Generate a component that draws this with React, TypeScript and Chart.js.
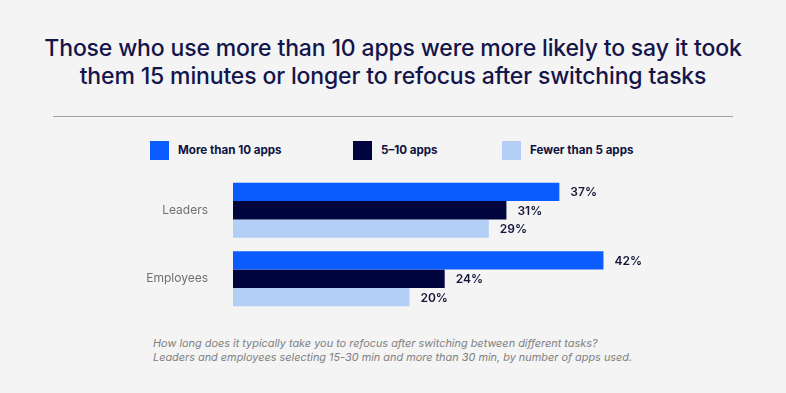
import React, { useEffect, useRef } from "react";
import { Chart, registerables } from "chart.js";

Chart.register(...registerables);

const categories = ["Leaders", "Employees"];
const seriesNames = ["More than 10 apps", "5–10 apps", "Fewer than 5 apps"];
const moreThan10 = [37, 42];
const fiveTo10 = [31, 24];
const fewerThan5 = [29, 20];
const seriesColors = ["#0B5CFF", "#00053D", "#B4CFF6"];
const legendX = [150, 353, 502];

const titleLines = [
  "Those who use more than 10 apps were more likely to say it took",
  "them 15 minutes or longer to refocus after switching tasks",
];
const footLines = [
  "How long does it typically take you to refocus after switching between different tasks?",
  "Leaders and employees selecting 15-30 min and more than 30 min, by number of apps used.",
];

const FONT = "Inter, 'Noto Sans', sans-serif";

export default function App() {
  const ref = useRef<HTMLCanvasElement>(null);

  useEffect(() => {
    if (!ref.current) return;
    const labelPlugin = {
      id: "valueLabels",
      afterDatasetsDraw(chart: any) {
        const ctx = chart.ctx;
        ctx.save();
        ctx.font = `600 12px ${FONT}`;
        ctx.fillStyle = "#15163a";
        ctx.textBaseline = "middle";
        ctx.textAlign = "left";
        chart.data.datasets.forEach((ds: any, i: number) => {
          const meta = chart.getDatasetMeta(i);
          meta.data.forEach((el: any, j: number) => {
            ctx.fillText(ds.data[j] + "%", el.x + 11, el.y + 1);
          });
        });
        ctx.restore();
      },
    };
    const chart = new Chart(ref.current, {
      type: "bar",
      data: {
        labels: categories,
        datasets: [moreThan10, fiveTo10, fewerThan5].map((d, i) => ({
          label: seriesNames[i],
          data: d,
          backgroundColor: seriesColors[i],
          borderWidth: 0,
          barPercentage: 1,
          categoryPercentage: 0.806,
        })),
      },
      options: {
        indexAxis: "y",
        animation: false,
        responsive: true,
        maintainAspectRatio: false,
        layout: { padding: { left: 0, right: 112, top: 11, bottom: 12 } },
        plugins: { legend: { display: false }, tooltip: { enabled: false }, title: { display: false } },
        scales: {
          x: { display: false, min: 0, max: 50 },
          y: {
            grid: { display: false },
            border: { display: false },
            ticks: { color: "#707070", font: { family: FONT, size: 12 }, padding: 17 },
            afterFit(scale: any) {
              scale.width = 233;
              scale.paddingTop = 0;
              scale.paddingBottom = 0;
            },
          },
        },
      },
      plugins: [labelPlugin],
    });
    return () => chart.destroy();
  }, []);

  return (
    <div style={{ position: "fixed", left: 0, top: 0, width: 786, height: 393, background: "#f4f4f4", fontFamily: FONT, overflow: "hidden" }}>
      <div style={{ position: "absolute", left: 0, top: 34, width: 786, textAlign: "center", color: "#14154a", fontSize: 23, fontWeight: 500, lineHeight: "28px", letterSpacing: "-0.15px" }}>
        {titleLines.map((l, i) => (
          <div key={i}>{l}</div>
        ))}
      </div>
      <div style={{ position: "absolute", left: 53, top: 116, width: 680, height: 1, background: "#a0a0a8" }} />
      {seriesNames.map((n, i) => (
        <div key={i} style={{ position: "absolute", left: legendX[i], top: 140, height: 20, display: "flex", alignItems: "center" }}>
          <div style={{ width: 19, height: 19, background: seriesColors[i] }} />
          <span style={{ marginLeft: 9, fontSize: 11.6, fontWeight: 700, color: "#0f1240" }}>{n}</span>
        </div>
      ))}
      <div style={{ position: "absolute", left: 0, top: 165, width: 786, height: 160 }}>
        <canvas ref={ref} />
      </div>
      <div style={{ position: "absolute", left: 153, top: 336, color: "#808080", fontSize: 10.9, fontStyle: "italic", lineHeight: "14px" }}>
        {footLines.map((l, i) => (
          <div key={i}>{l}</div>
        ))}
      </div>
    </div>
  );
}
